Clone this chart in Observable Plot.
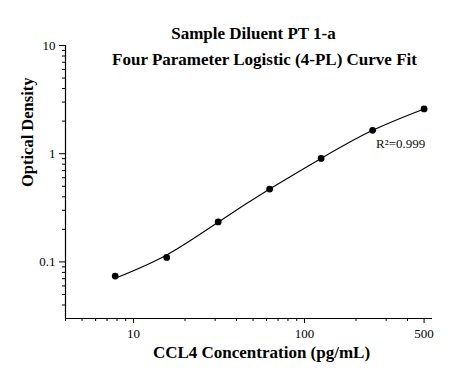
<!DOCTYPE html>
<html>
<head>
<meta charset="utf-8">
<script src="https://cdn.jsdelivr.net/npm/d3@7"></script>
<script src="https://cdn.jsdelivr.net/npm/@observablehq/plot@0.6"></script>
<style>
  html, body { margin: 0; padding: 0; background: #fff; }
  #chart { width: 451px; height: 375px; }
</style>
</head>
<body>
<div id="chart"></div>
<script>
const titleLines = ["Sample Diluent PT 1-a", "Four Parameter Logistic (4-PL) Curve Fit"];
const xLabel = "CCL4 Concentration (pg/mL)";
const yLabel = "Optical Density";
const r2Text = "R\u00B2=0.999";
const r2Pos = [262, 1.24];

const conc = [7.8125, 15.625, 31.25, 62.5, 125, 250, 500];
const od = [0.074, 0.110, 0.234, 0.471, 0.905, 1.644, 2.594];

const fitConc = [7.8125, 15.625, 31.25, 62.5, 125, 250, 500];
const fitOd = [0.0706, 0.1160, 0.233, 0.471, 0.905, 1.644, 2.594];

const xTicks = [10, 100, 500];
const xMinor = [4, 5, 6, 7, 8, 9, 20, 30, 40, 50, 60, 70, 80, 90, 200, 300, 400];
const yTicks = [0.1, 1, 10];
const yMinor = [0.04, 0.05, 0.06, 0.07, 0.08, 0.09, 0.2, 0.3, 0.4, 0.5, 0.6, 0.7, 0.8, 0.9, 2, 3, 4, 5, 6, 7, 8, 9];
const xDomain = [4, 560];
const yDomain = [0.03, 10];

const points = conc.map((c, i) => ({c, od: od[i]}));
const fit = fitConc.map((c, i) => ({c, od: fitOd[i]}));

const serif = "'Liberation Serif', 'Times New Roman', serif";

const chart = Plot.plot({
  width: 451,
  height: 375,
  marginLeft: 65,
  marginRight: 19,
  marginTop: 45,
  marginBottom: 57,
  style: {fontFamily: serif, fontSize: "13px", color: "#000", background: "#fff"},
  x: {type: "log", domain: xDomain},
  y: {type: "log", domain: yDomain},
  marks: [
    Plot.axisX({ticks: xMinor, tickSize: 3, tickFormat: () => "", label: null}),
    Plot.axisX({ticks: xTicks, tickSize: 5, tickFormat: d => String(d), tickPadding: 5, fontSize: 13, label: null}),
    Plot.axisY({ticks: yMinor, tickSize: 3, tickFormat: () => "", label: null}),
    Plot.axisY({ticks: yTicks, tickSize: 6, tickFormat: d => String(d), tickPadding: 4, fontSize: 13, label: null}),
    Plot.ruleX([xDomain[0]], {stroke: "#000", strokeWidth: 1.2}),
    Plot.ruleY([yDomain[0]], {stroke: "#000", strokeWidth: 1.2}),
    Plot.line(fit, {x: "c", y: "od", curve: "natural", stroke: "#000", strokeWidth: 1.1}),
    Plot.dot(points, {x: "c", y: "od", r: 3.4, fill: "#000", stroke: "none"}),
    Plot.text([r2Text], {x: () => r2Pos[0], y: () => r2Pos[1], text: d => d, textAnchor: "start", fontSize: 13, fill: "#111"}),
    Plot.text([titleLines[0]], {frameAnchor: "top", lineAnchor: "middle", dx: 4.5, dy: -12, text: d => d, fontSize: 17, fontWeight: "bold", fill: "#000"}),
    Plot.text([titleLines[1]], {frameAnchor: "top", lineAnchor: "middle", dx: 15.5, dy: 14, text: d => d, fontSize: 17, fontWeight: "bold", fill: "#000"}),
    Plot.text([xLabel], {frameAnchor: "bottom", lineAnchor: "middle", dx: 12.5, dy: 34, text: d => d, fontSize: 17, fontWeight: "bold", fill: "#000"}),
    Plot.text([yLabel], {frameAnchor: "left", lineAnchor: "middle", dx: -38, dy: 5, rotate: -90, text: d => d, fontSize: 16.5, fontWeight: "bold", fill: "#000"})
  ]
});
document.getElementById("chart").appendChild(chart);
</script>
</body>
</html>
